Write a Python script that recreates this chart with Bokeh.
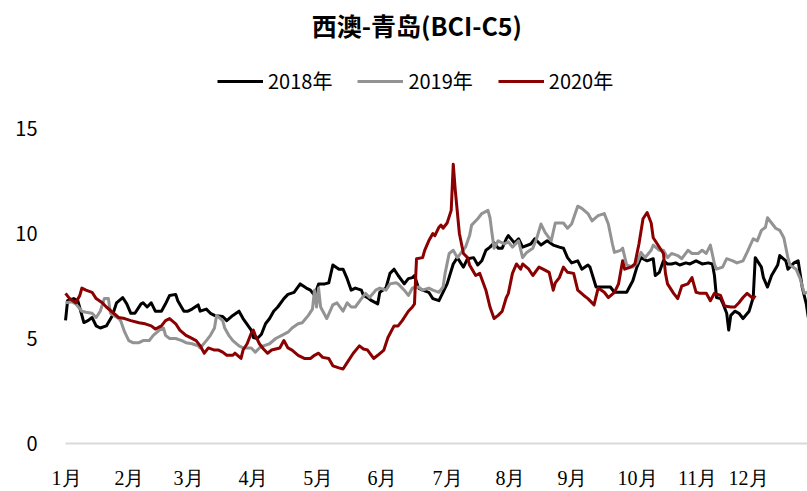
from bokeh.plotting import figure
from bokeh.models import Range1d, Legend, LegendItem, FixedTicker, Label, LabelSet, ColumnDataSource
from bokeh.embed import file_html
from bokeh.resources import INLINE

# ---- data (day of year, value) ----
days_2018 = [2,3,6,8,11,13,15,17,19,22,25,27,30,32,34,36,39,40,42,44,46,49,51,53,56,57,60,62,64,67,68,71,73,75,79,81,84,87,89,93,94,96,98,100,102,104,106,109,111,114,117,120,122,124,126,129,131,133,136,138,140,142,144,147,148,150,152,155,156,159,161,163,165,168,170,172,173,175,177,180,182,185,189,192,194,197,199,202,204,206,208,210,212,214,216,218,219,222,224,226,230,232,235,238,241,244,246,248,250,253,255,258,259,262,264,267,269,271,275,277,280,282,284,287,290,291,293,295,297,299,301,303,306,308,311,314,317,319,320,321,323,324,326,327,328,330,332,334,337,339,340,343,344,346,348,351,352,355,356,359,361,363,365,366]
vals_2018 = [5.86,6.8,6.9,6.8,5.76,5.85,6.0,5.6,5.5,5.6,6.1,6.7,6.95,6.65,6.2,6.2,6.65,6.7,6.5,6.7,6.3,6.3,6.65,7.05,7.1,6.8,6.3,6.3,6.4,6.6,6.3,6.4,6.2,6.1,6.05,5.85,6.1,6.3,5.95,5.4,5.05,5.0,5.2,5.7,5.95,6.3,6.5,6.9,7.1,7.2,7.6,7.4,7.3,7.05,7.6,7.6,7.65,8.5,8.3,8.3,7.85,7.3,7.4,7.3,7.05,6.95,6.8,6.65,7.2,7.4,8.1,8.3,8.0,7.6,7.85,7.9,8.0,7.4,7.3,7.2,6.9,6.8,7.6,8.55,8.85,8.4,8.8,8.85,8.5,8.7,9.2,9.35,9.55,9.3,9.3,9.75,9.9,9.55,9.75,9.35,9.5,9.75,9.45,9.65,9.45,9.35,9.3,8.85,8.6,8.7,8.3,8.5,8.4,7.45,7.45,7.45,7.45,7.2,7.2,7.2,7.75,8.4,8.85,8.7,8.8,8.0,8.15,8.7,8.55,8.55,8.6,8.5,8.6,8.55,8.7,8.55,8.6,8.55,8.0,6.95,6.9,6.7,6.2,5.4,6.1,6.3,6.2,5.95,6.3,6.95,8.85,8.4,7.9,7.45,8.0,8.5,8.95,8.7,8.3,8.6,8.7,7.45,6.65,6.0]

days_2019 = [2,5,7,10,12,15,17,19,21,23,24,28,29,31,33,35,38,40,43,45,48,50,51,53,56,59,61,64,67,68,71,73,75,76,79,80,82,84,87,89,93,95,97,99,102,105,108,111,113,116,118,121,123,124,125,126,127,130,133,135,138,140,142,144,147,149,151,154,156,159,161,164,165,168,170,172,175,177,180,182,185,187,188,190,192,194,196,198,200,201,204,206,209,210,211,212,214,217,219,221,224,226,228,231,233,235,237,240,242,246,248,250,253,255,258,260,263,266,268,270,271,274,275,277,280,282,284,286,289,290,293,295,297,299,302,304,307,309,312,314,316,318,320,321,324,326,329,331,334,336,339,341,343,345,346,348,350,352,354,356,357,360,362,364,366]
vals_2019 = [6.7,6.75,6.65,6.3,6.25,6.2,6.0,6.3,6.9,6.9,6.2,5.95,5.85,5.3,4.9,4.8,4.8,4.9,4.9,5.15,5.4,5.5,5.15,5.0,5.0,4.9,4.8,4.75,4.65,4.55,4.9,5.15,5.5,6.1,5.85,5.5,5.15,4.9,4.65,4.55,4.55,4.35,4.55,4.65,4.75,5.0,5.15,5.3,5.5,5.7,5.75,6.1,6.4,7.3,6.5,7.4,6.5,5.95,6.6,6.7,6.3,6.7,6.5,6.5,6.9,7.15,6.95,7.3,7.4,7.3,7.6,7.65,7.6,7.3,7.05,7.4,7.45,7.3,7.4,7.3,7.2,7.45,8.1,9.05,9.2,8.85,9.1,9.35,9.9,10.4,10.7,10.95,11.1,10.75,10.0,9.3,9.65,9.5,9.6,9.35,9.65,8.85,9.1,9.3,9.8,10.45,10.05,9.65,10.5,10.5,10.25,10.45,11.3,11.2,10.95,10.6,10.85,10.95,10.45,9.5,9.1,9.2,9.3,8.5,8.4,8.6,9.1,8.85,9.2,9.45,9.2,9.2,8.85,9.05,8.95,8.8,9.2,9.05,9.05,9.2,9.05,9.45,8.55,8.3,8.4,8.8,8.7,8.6,8.7,9.1,9.75,9.65,10.15,10.3,10.75,10.5,10.25,10.15,9.8,8.85,8.5,8.3,7.85,7.15,7.2]

days_2020 = [2,4,7,9,10,12,15,17,20,22,25,28,31,34,38,41,44,46,49,51,53,56,58,61,63,66,68,70,72,75,77,79,81,84,85,88,89,91,93,94,95,97,99,101,103,105,107,109,111,113,116,119,122,124,126,128,131,133,136,138,140,143,146,148,150,153,155,158,160,163,165,167,170,172,173,174,177,178,180,182,183,185,186,187,189,191,192,193,195,197,199,200,203,205,208,210,212,214,216,218,219,221,223,225,226,229,231,234,236,239,241,242,244,246,248,251,253,256,258,261,263,266,268,271,273,275,276,279,281,283,285,287,289,290,292,295,296,297,300,302,304,307,309,311,313,316,318,320,323,325,328,330,332,334,336,339,340]
vals_2020 = [7.15,6.9,6.7,7.05,7.4,7.3,7.2,6.9,6.7,6.5,6.25,6.0,5.95,5.85,5.75,5.7,5.6,5.45,5.6,5.85,5.95,5.7,5.4,5.15,5.05,4.9,4.65,4.3,4.55,4.45,4.45,4.35,4.2,4.2,4.3,4.05,4.45,4.75,5.25,5.4,5.15,4.75,4.5,4.3,4.45,4.5,4.55,4.9,4.55,4.45,4.2,4.05,4.05,4.2,4.3,4.1,4.05,3.7,3.6,3.55,3.85,4.3,4.65,4.5,4.45,4.05,4.2,4.45,5.05,5.6,5.6,5.85,6.3,6.5,6.65,8.8,8.85,9.2,9.65,10.0,9.9,10.3,10.4,10.25,10.5,11.1,13.3,12.05,10.0,9.05,8.85,8.5,8.0,8.1,7.3,6.5,5.95,6.1,6.3,6.95,7.15,8.1,8.55,8.3,8.55,8.3,8.0,8.4,8.3,8.15,7.3,7.65,7.9,8.4,8.15,8.1,7.3,7.05,6.9,6.6,7.4,7.2,6.95,7.2,7.6,8.7,8.3,8.4,8.55,9.5,10.7,11.0,10.5,9.8,9.5,9.05,8.1,7.6,7.15,6.9,7.5,7.6,7.9,7.2,7.15,7.15,6.8,7.15,7.05,6.55,6.5,6.5,6.7,6.95,7.15,6.9,7.05]

series_names = ["2018年", "2019年", "2020年"]
month_labels = ["1月", "2月", "3月", "4月", "5月", "6月", "7月", "8月", "9月", "10月", "11月", "12月"]
month_ticks = [2.5, 33.3, 62.3, 94.1, 125.9, 157.3, 189.2, 220.0, 250.4, 282.3, 311.7, 336.7]
y_ticks = [0, 5, 10, 15]
title_text = "西澳-青岛(BCI-C5)"

FONT = "Noto Sans CJK SC"
colors = ["#000000", "#939393", "#8b0000"]

X_START, X_END = -7.82, 365.6
AXIS_START = 1.98

p = figure(width=807, height=491, output_backend="svg", toolbar_location=None,
           x_range=Range1d(X_START, X_END), y_range=Range1d(-2.286, 21.095),
           x_axis_location=None, title_location=None,
           min_border_left=45, min_border_right=0, min_border_bottom=0, min_border_top=0)

p.grid.visible = False
p.outline_line_color = None
p.background_fill_color = "white"
p.border_fill_color = "white"

# zero (category) axis line
p.segment(x0=[AXIS_START], y0=[0], x1=[X_END], y1=[0], line_color="#d9d9d9", line_width=2)

renderers = []
for d, v, c in zip([days_2018, days_2019, days_2020], [vals_2018, vals_2019, vals_2020], colors):
    r = p.line(d, v, line_color=c, line_width=3, line_join="round")
    renderers.append(r)

# month labels
month_src = ColumnDataSource(dict(x=month_ticks, y=[-1.62] * len(month_ticks), text=month_labels))
p.add_layout(LabelSet(x="x", y="y", text="text", source=month_src, text_align="center",
                      text_baseline="middle", text_font=FONT, text_font_size="20px",
                      text_color="#000000"))

# title
p.add_layout(Label(x=174.2, y=19.905, text=title_text, text_align="center", text_baseline="middle",
                   text_font=FONT, text_font_size="25px", text_font_style="bold", text_color="#000000"))

ya = p.yaxis[0]
ya.ticker = FixedTicker(ticks=y_ticks)
ya.axis_line_color = None
ya.major_tick_line_color = None
ya.minor_tick_line_color = None
ya.major_tick_out = 0
ya.major_tick_in = 0
ya.major_label_standoff = 8
ya.major_label_text_font = FONT
ya.major_label_text_font_size = "20px"
ya.major_label_text_color = "#000000"

legend = Legend(items=[LegendItem(label=n, renderers=[r]) for n, r in zip(series_names, renderers)],
                orientation="horizontal", location=(172, 396),
                label_text_font=FONT, label_text_font_size="20px", label_text_color="#000000",
                glyph_width=46, glyph_height=24, label_height=24, label_standoff=5, spacing=25,
                border_line_color=None, background_fill_alpha=0, padding=0,
                margin=0)
p.add_layout(legend, "center")

open("out.html", "w").write(file_html(p, INLINE))
